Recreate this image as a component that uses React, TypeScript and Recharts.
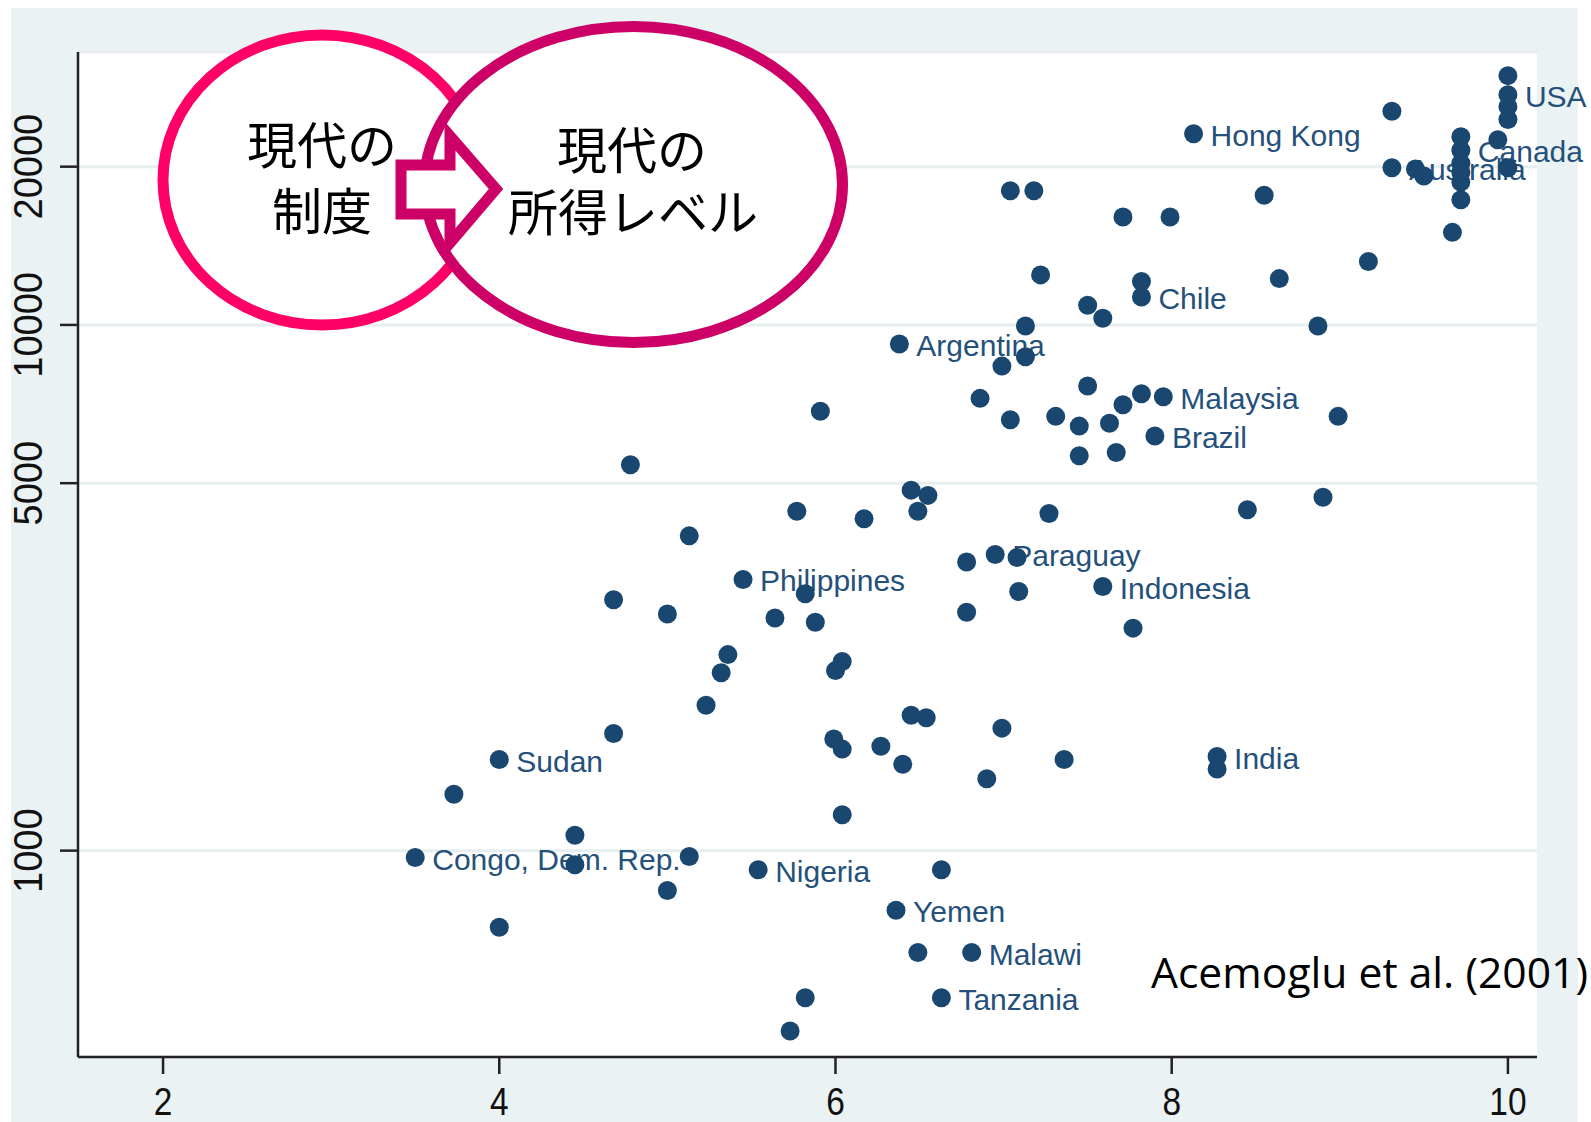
import React from "react";
import { ScatterChart, Scatter, XAxis, YAxis, CartesianGrid } from "recharts";

// Average protection against expropriation risk (x) and GDP per capita, 1995 (y, log scale)
const expropriation = [
  10.0, 10.0, 10.0, 10.0, 9.31, 8.13, 9.94, 9.72, 9.72, 9.72,
  9.72, 9.72, 9.72, 10.0, 9.31, 9.45, 9.5, 9.67, 9.17, 8.55,
  8.64, 8.87, 8.99, 8.9, 8.45, 7.99, 7.71, 7.04, 7.18, 7.22,
  7.82, 7.82, 7.5, 7.59, 7.13, 6.38, 7.13, 6.99, 7.5, 7.82,
  7.95, 7.71, 6.86, 5.91, 7.04, 7.31, 7.45, 7.63, 7.9, 7.45,
  7.67, 4.78, 6.45, 6.55, 6.49, 5.77, 6.17, 7.27, 5.13, 6.95,
  7.08, 6.78, 5.45, 5.82, 7.09, 7.59, 4.68, 5.0, 5.64, 5.88,
  6.78, 7.77, 5.36, 5.32, 6.04, 6.0, 5.23, 6.45, 6.54, 6.99,
  4.68, 5.99, 6.04, 6.27, 6.4, 7.36, 8.27, 8.27, 6.9, 4.0,
  3.73, 6.04, 4.45, 3.5, 4.45, 5.13, 5.54, 6.63, 5.0, 6.36,
  4.0, 6.49, 6.81, 5.82, 6.63, 5.73,
];

const gdpPerCapita = [
  29800, 27400, 26000, 24600, 25500, 23100, 22500, 22800, 21500, 20300,
  19500, 18700, 17300, 19900, 19900, 19800, 19200, 15000, 13200, 17650,
  12250, 9950, 6700, 4700, 4450, 16050, 16050, 18000, 18000, 12450,
  12100, 11300, 10900, 10300, 9950, 9200, 8700, 8350, 7650, 7400,
  7300, 7050, 7250, 6850, 6600, 6700, 6420, 6500, 6150, 5640,
  5720, 5420, 4850, 4740, 4420, 4420, 4280, 4380, 3970, 3660,
  3610, 3540, 3280, 3080, 3110, 3180, 3000, 2820, 2770, 2720,
  2840, 2650, 2360, 2180, 2290, 2200, 1890, 1810, 1790, 1710,
  1670, 1630, 1560, 1580, 1460, 1490, 1510, 1430, 1370, 1490,
  1280, 1170, 1070, 970, 940, 975, 920, 920, 840, 770,
  715, 640, 640, 525, 525, 454,
];

const countryLabels = [
  "", "USA", "", "", "", "Hong Kong", "", "", "Canada", "",
  "", "", "", "", "Australia", "", "", "", "", "",
  "", "", "", "", "", "", "", "", "", "",
  "", "Chile", "", "", "", "Argentina", "", "", "", "",
  "Malaysia", "", "", "", "", "", "", "", "Brazil", "",
  "", "", "", "", "", "", "", "", "", "Paraguay",
  "", "", "Philippines", "", "", "Indonesia", "", "", "", "",
  "", "", "", "", "", "", "", "", "", "",
  "", "", "", "", "", "", "India", "", "", "Sudan",
  "", "", "", "Congo, Dem. Rep.", "", "", "Nigeria", "", "", "Yemen",
  "", "", "Malawi", "", "Tanzania", "",
];

const xTicks = [2, 4, 6, 8, 10];
const yTicks = [1000, 5000, 10000, 20000];

const data = expropriation.map((x, i) => ({
  x,
  y: gdpPerCapita[i],
  label: countryLabels[i],
}));

const NAVY = "#1a476f";
const PANEL = "#eaf2f3";

const XTick = (props: any) => {
  const { x, y, payload } = props;
  return (
    <text
      transform={`translate(${x},${y + 39}) scale(0.88,1)`}
      textAnchor="middle"
      fontFamily="'Liberation Sans', Arial, sans-serif"
      fontSize={38}
      fill="#111"
    >
      {payload.value}
    </text>
  );
};

const YTick = (props: any) => {
  const { x, y, payload } = props;
  return (
    <text
      transform={`translate(${x - 16},${y}) rotate(-90) scale(0.95,1)`}
      textAnchor="middle"
      fontFamily="'Liberation Sans', Arial, sans-serif"
      fontSize={40}
      fill="#111"
    >
      {payload.value}
    </text>
  );
};

const Dot = (props: any) => {
  const { cx, cy } = props;
  return <circle cx={cx} cy={cy} r={9.5} fill={NAVY} />;
};

const LabelShape = (props: any) => {
  const { cx, cy, payload } = props;
  if (!payload || !payload.label) return <g />;
  return (
    <text
      x={cx + 17}
      y={cy + 12}
      fontFamily="'Liberation Sans', Arial, sans-serif"
      fontSize={30}
      fill="#24507a"
    >
      {payload.label}
    </text>
  );
};

const CJK = "'Noto Sans CJK JP', 'Noto Sans CJK SC', sans-serif";

export default function App() {
  return (
    <div
      style={{
        position: "absolute",
        left: 0,
        top: 0,
        width: 1591,
        height: 1122,
        background: "#ffffff",
        overflow: "hidden",
      }}
    >
      <div
        style={{
          position: "absolute",
          left: 11,
          top: 8,
          width: 1567,
          height: 1114,
          background: PANEL,
        }}
      />
      <div style={{ position: "absolute", left: 0, top: 0 }}>
        <ScatterChart
          width={1591}
          height={1122}
          margin={{ top: 52, right: 54, bottom: 0, left: 0 }}
          style={{ overflow: "visible" }}
        >
          <CartesianGrid
            horizontal={true}
            vertical={false}
            fill="#ffffff"
            stroke="#e6eeef"
            strokeWidth={3}
          />
          <XAxis
            type="number"
            dataKey="x"
            domain={[1.494, 10.173]}
            ticks={xTicks}
            height={65}
            tickSize={17}
            tick={<XTick />}
            axisLine={{ stroke: "#222", strokeWidth: 2.5 }}
            tickLine={{ stroke: "#222", strokeWidth: 2.5 }}
          />
          <YAxis
            type="number"
            dataKey="y"
            scale="log"
            domain={[405, 33050]}
            ticks={yTicks}
            width={78}
            tickSize={18}
            tick={<YTick />}
            axisLine={{ stroke: "#222", strokeWidth: 2.5 }}
            tickLine={{ stroke: "#222", strokeWidth: 2.5 }}
          />
          <Scatter
            data={data}
            shape={<LabelShape />}
            isAnimationActive={false}
          />
          <Scatter data={data} shape={<Dot />} isAnimationActive={false} />
        </ScatterChart>
      </div>
      <svg
        width={1591}
        height={1122}
        style={{ position: "absolute", left: 0, top: 0, pointerEvents: "none" }}
      >
        <ellipse
          cx={322}
          cy={180}
          rx={159}
          ry={145}
          fill="#ffffff"
          stroke="#ff0066"
          strokeWidth={11}
        />
        <ellipse
          cx={633.5}
          cy={184.5}
          rx={209}
          ry={158}
          fill="#ffffff"
          stroke="#cc0066"
          strokeWidth={11}
        />
        <path
          d="M 401 165 L 450 165 L 450 136 L 496 189 L 450 243 L 450 214 L 401 214 Z"
          fill="#ffffff"
          stroke="#cc0066"
          strokeWidth={11}
          strokeLinejoin="miter"
        />
        <text x={322} y={164} textAnchor="middle" fontFamily={CJK} fontSize={50} fill="#000">
          現代の
        </text>
        <text x={322} y={230} textAnchor="middle" fontFamily={CJK} fontSize={50} fill="#000">
          制度
        </text>
        <text x={632} y={169} textAnchor="middle" fontFamily={CJK} fontSize={50} fill="#000">
          現代の
        </text>
        <text x={633} y={231} textAnchor="middle" fontFamily={CJK} fontSize={50} fill="#000">
          所得レベル
        </text>
        <text
          x={1151}
          y={988}
          fontFamily="'Open Sans', sans-serif"
          fontSize={42}
          fill="#000"
          textLength={437}
          lengthAdjust="spacingAndGlyphs"
        >
          Acemoglu et al. (2001)
        </text>
      </svg>
    </div>
  );
}
